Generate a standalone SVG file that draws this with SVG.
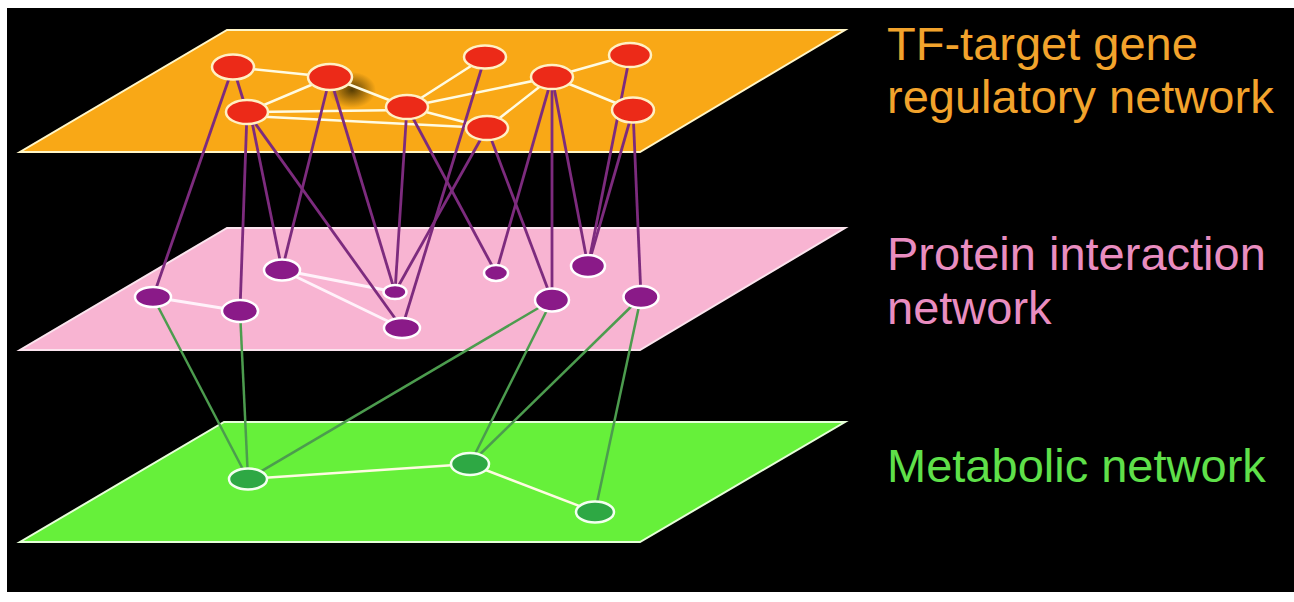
<svg xmlns="http://www.w3.org/2000/svg" width="1294" height="602" viewBox="0 0 1294 602">
<defs>
<radialGradient id="shadow" cx="0.5" cy="0.5" r="0.5">
<stop offset="0" stop-color="#3a2a00" stop-opacity="0.85"/>
<stop offset="1" stop-color="#3a2a00" stop-opacity="0"/>
</radialGradient>
<style>
.bg{fill:#000}
.orange{fill:#f9a816;stroke:#fff6c8;stroke-width:2}
.pink{fill:#f8b4d2;stroke:#fbe4ee;stroke-width:2}
.green{fill:#66f03a;stroke:#e6ffd8;stroke-width:2}
.ew{stroke:#fffbe2;stroke-width:2.5;fill:none;stroke-linecap:round}
.ewp{stroke:#fff2fa;stroke-width:3;fill:none;stroke-linecap:round}
.pl{stroke:#7d2b7e;stroke-width:2.8;fill:none}
.gl{stroke:#4c9c4e;stroke-width:2.5;fill:none}
.rn{fill:#ec2a18;stroke:#fff0c4;stroke-width:2.5}
.pn{fill:#8a1a88;stroke:#ffffff;stroke-width:2.5}
.gn{fill:#2ea844;stroke:#f4fff0;stroke-width:2.5}
.lbl{font-family:"Liberation Sans",Arial,sans-serif;font-size:47px}
</style>
</defs>
<rect x="0" y="0" width="1294" height="602" fill="#ffffff"/>
<rect class="bg" x="7" y="8" width="1287" height="584"/>

<g id="planes">
<polygon id="plane-tf" class="orange" points="227,30 845,30 640,152 20,152"/>
<polygon id="plane-protein" class="pink" points="227,228 845,228 640,350 20,350"/>
<polygon id="plane-metabolic" class="green" points="224,422 845,422 640,542 20,542"/>
<ellipse cx="352" cy="90" rx="24" ry="18" fill="url(#shadow)"/>
</g>

<g id="connectors">
<g id="tf-edges">
<line class="ew" x1="233" y1="67" x2="330" y2="77"/>
<line class="ew" x1="330" y1="77" x2="247" y2="112"/>
<line class="ew" x1="330" y1="77" x2="407" y2="107"/>
<line class="ew" x1="247" y1="112" x2="407" y2="110"/>
<line class="ew" x1="247" y1="116" x2="487" y2="128"/>
<line class="ew" x1="407" y1="107" x2="485" y2="57"/>
<line class="ew" x1="407" y1="107" x2="552" y2="77"/>
<line class="ew" x1="407" y1="107" x2="487" y2="128"/>
<line class="ew" x1="487" y1="128" x2="552" y2="77"/>
<line class="ew" x1="552" y1="77" x2="630" y2="55"/>
<line class="ew" x1="552" y1="77" x2="633" y2="110"/>
</g>
<g id="protein-edges">
<line class="ewp" x1="153" y1="297" x2="240" y2="311"/>
<line class="ewp" x1="282" y1="270" x2="395" y2="292"/>
<line class="ewp" x1="282" y1="270" x2="402" y2="328"/>
</g>
<g id="metabolic-edges">
<line class="ew" x1="248" y1="479" x2="470" y2="464"/>
<line class="ew" x1="470" y1="464" x2="595" y2="512"/>
</g>
<g id="tf-protein-links">
<line class="pl" x1="233" y1="67" x2="153" y2="297"/>
<line class="pl" x1="233" y1="67" x2="247" y2="112"/>
<line class="pl" x1="247" y1="112" x2="240" y2="311"/>
<line class="pl" x1="250" y1="112" x2="282" y2="270"/>
<line class="pl" x1="247" y1="112" x2="402" y2="328"/>
<line class="pl" x1="330" y1="77" x2="282" y2="270"/>
<line class="pl" x1="330" y1="77" x2="395" y2="292"/>
<line class="pl" x1="407" y1="107" x2="395" y2="292"/>
<line class="pl" x1="407" y1="107" x2="496" y2="273"/>
<line class="pl" x1="485" y1="57" x2="402" y2="328"/>
<line class="pl" x1="487" y1="128" x2="395" y2="292"/>
<line class="pl" x1="487" y1="128" x2="552" y2="300"/>
<line class="pl" x1="552" y1="77" x2="496" y2="273"/>
<line class="pl" x1="552" y1="77" x2="552" y2="300"/>
<line class="pl" x1="552" y1="77" x2="588" y2="266"/>
<line class="pl" x1="630" y1="55" x2="588" y2="266"/>
<line class="pl" x1="633" y1="110" x2="588" y2="266"/>
<line class="pl" x1="633" y1="110" x2="641" y2="297"/>
</g>
<g id="protein-metabolic-links">
<line class="gl" x1="153" y1="297" x2="248" y2="479"/>
<line class="gl" x1="240" y1="311" x2="248" y2="479"/>
<line class="gl" x1="552" y1="300" x2="248" y2="479"/>
<line class="gl" x1="552" y1="300" x2="470" y2="464"/>
<line class="gl" x1="641" y1="297" x2="470" y2="464"/>
<line class="gl" x1="641" y1="297" x2="595" y2="512"/>
</g>
</g>

<g id="tf-nodes">
<g id="nA"><ellipse class="rn" cx="233" cy="67" rx="21" ry="12.5"/></g>
<g id="nB"><ellipse class="rn" cx="330" cy="77" rx="22" ry="13"/></g>
<g id="nC"><ellipse class="rn" cx="247" cy="112" rx="21" ry="12"/></g>
<g id="nD"><ellipse class="rn" cx="407" cy="107" rx="21" ry="12"/></g>
<g id="nE"><ellipse class="rn" cx="485" cy="57" rx="21" ry="11.5"/></g>
<g id="nF"><ellipse class="rn" cx="552" cy="77" rx="21" ry="12"/></g>
<g id="nG"><ellipse class="rn" cx="630" cy="55" rx="21" ry="12"/></g>
<g id="nH"><ellipse class="rn" cx="633" cy="110" rx="21" ry="12.5"/></g>
<g id="nI"><ellipse class="rn" cx="487" cy="128" rx="21" ry="12"/></g>
</g>

<g id="protein-nodes">
<g id="p1"><ellipse class="pn" cx="153" cy="297" rx="18" ry="10"/></g>
<g id="p2"><ellipse class="pn" cx="240" cy="311" rx="18" ry="11"/></g>
<g id="p3"><ellipse class="pn" cx="282" cy="270" rx="18" ry="10.5"/></g>
<g id="p4"><ellipse class="pn" cx="395" cy="292" rx="11.5" ry="7"/></g>
<g id="p5"><ellipse class="pn" cx="402" cy="328" rx="18" ry="10"/></g>
<g id="p6"><ellipse class="pn" cx="496" cy="273" rx="12" ry="8"/></g>
<g id="p7"><ellipse class="pn" cx="588" cy="266" rx="17" ry="11"/></g>
<g id="p8"><ellipse class="pn" cx="552" cy="300" rx="17" ry="11.5"/></g>
<g id="p9"><ellipse class="pn" cx="641" cy="297" rx="17.5" ry="11"/></g>
</g>

<g id="metabolic-nodes">
<g id="m1"><ellipse class="gn" cx="248" cy="479" rx="19" ry="10.5"/></g>
<g id="m2"><ellipse class="gn" cx="470" cy="464" rx="19" ry="11"/></g>
<g id="m3"><ellipse class="gn" cx="595" cy="512" rx="19" ry="10.5"/></g>
</g>

<g id="labels">
<text class="lbl" x="887" y="60" fill="#f2a32c">TF-target gene</text>
<text class="lbl" x="887" y="113" fill="#f2a32c">regulatory network</text>
<text class="lbl" x="887" y="270" fill="#e98dc0">Protein interaction</text>
<text class="lbl" x="887" y="324" fill="#e98dc0">network</text>
<text class="lbl" x="887" y="482" fill="#5fe04a">Metabolic network</text>
</g>
</svg>
